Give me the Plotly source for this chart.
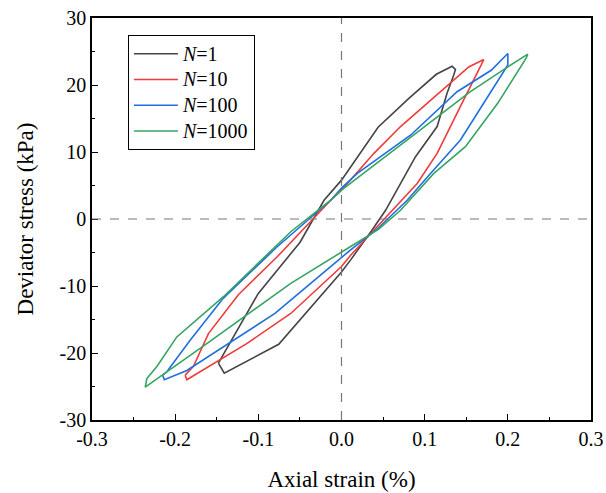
import plotly.graph_objects as go

# Hysteresis loops: (strain %, deviator stress kPa), closed paths
n1_x = [-0.148, -0.100, -0.050, -0.021, 0.000, 0.044, 0.081, 0.114, 0.133, 0.137, 0.135, 0.127, 0.115, 0.089, 0.053, 0.037, 0.011, 0.000, -0.0755, -0.141, -0.148]
n1_y = [-21.5, -11.1, -3.5, 2.8, 5.8, 13.7, 18.0, 21.6, 22.8, 22.3, 21.5, 18.8, 13.8, 9.3, 1.3, -1.6, -6.1, -7.9, -18.7, -23.0, -21.5]

n10_x = [-0.188, -0.178, -0.160, -0.124, -0.077, -0.013, 0.000, 0.039, 0.071, 0.115, 0.153, 0.171, 0.168, 0.143, 0.115, 0.091, 0.061, 0.040, 0.011, 0.000, -0.061, -0.114, -0.186, -0.188]
n10_y = [-23.3, -22.0, -17.1, -11.3, -5.6, 2.8, 4.3, 9.8, 13.8, 18.5, 22.7, 23.8, 23.0, 16.8, 9.8, 5.3, 1.3, -1.6, -5.4, -7.1, -14.1, -18.6, -24.0, -23.3]

n100_x = [-0.215, -0.210, -0.182, -0.142, -0.077, -0.013, 0.000, 0.019, 0.083, 0.139, 0.180, 0.200, 0.200, 0.171, 0.143, 0.107, 0.079, 0.042, 0.011, -0.080, -0.186, -0.213, -0.215]
n100_y = [-23.3, -22.8, -18.1, -11.8, -4.1, 2.8, 4.6, 6.8, 12.5, 19.0, 22.2, 24.7, 23.0, 17.3, 11.8, 6.8, 2.8, -1.6, -4.6, -14.1, -22.6, -24.0, -23.3]

n1000_x = [-0.234, -0.222, -0.198, -0.186, -0.142, -0.061, -0.013, 0.000, 0.105, 0.155, 0.200, 0.224, 0.222, 0.188, 0.149, 0.111, 0.071, 0.044, 0.011, -0.061, -0.162, -0.236, -0.234]
n1000_y = [-23.8, -22.0, -17.6, -16.3, -11.6, -1.9, 2.8, 4.3, 14.3, 19.0, 22.7, 24.6, 24.0, 17.3, 10.8, 6.8, 1.3, -1.6, -4.1, -9.6, -18.6, -25.1, -23.8]

series_names = ["<i>N</i>=1", "<i>N</i>=10", "<i>N</i>=100", "<i>N</i>=1000"]
series_colors = ["#444444", "#ee3b3b", "#1f6fdf", "#36a463"]

x_tickvals = [-0.3, -0.2, -0.1, 0.0, 0.1, 0.2, 0.3]
x_ticktext = ["-0.3", "-0.2", "-0.1", "0.0", "0.1", "0.2", "0.3"]
y_tickvals = [-30, -20, -10, 0, 10, 20, 30]
y_ticktext = ["-30", "-20", "-10", "0", "10", "20", "30"]

fig = go.Figure()
for xs, ys, name, col in zip([n1_x, n10_x, n100_x, n1000_x],
                             [n1_y, n10_y, n100_y, n1000_y],
                             series_names, series_colors):
    fig.add_trace(go.Scatter(x=xs, y=ys, mode="lines",
                             name='<span style="font-size:20px">' + name + '</span>',
                             line=dict(color=col, width=1.6)))

fig.add_hline(y=0, line=dict(color="#777777", width=1.2, dash="dash"))
fig.add_vline(x=0, line=dict(color="#777777", width=1.2, dash="dash"))

font_family = "Liberation Serif, Times New Roman, serif"
axis_common = dict(showgrid=False, zeroline=False, showline=True, linecolor="black",
                   linewidth=1.5, mirror=True, ticks="inside", ticklen=6, tickwidth=1.3,
                   tickcolor="black", automargin=False,
                   tickfont=dict(family=font_family, size=20, color="black"))

fig.update_layout(
    template="none",
    width=606, height=493,
    margin=dict(l=92, r=15, t=18, b=73),
    paper_bgcolor="white", plot_bgcolor="white",
    font=dict(family=font_family, color="black"),
    xaxis=dict(range=[-0.3, 0.3], tickvals=x_tickvals, ticktext=x_ticktext,
               title=dict(text="Axial strain (%)", font=dict(family=font_family, size=23), standoff=22),
               minor=dict(ticks="inside", dtick=0.05, ticklen=3.5, tickwidth=1.2, tickcolor="black", tick0=-0.3),
               **axis_common),
    yaxis=dict(range=[-30, 30], tickvals=y_tickvals, ticktext=y_ticktext,
               title=dict(text="Deviator stress (kPa)", font=dict(family=font_family, size=23), standoff=20),
               minor=dict(ticks="inside", dtick=5, ticklen=3.5, tickwidth=1.2, tickcolor="black", tick0=-30),
               **axis_common),
    legend=dict(x=0.072, y=0.958, xanchor="left", yanchor="top",
                bordercolor="black", borderwidth=1, bgcolor="white",
                font=dict(family=font_family, size=17.5), tracegroupgap=0,
                itemwidth=44),
    showlegend=True,
)

fig.write_html("out.html")
